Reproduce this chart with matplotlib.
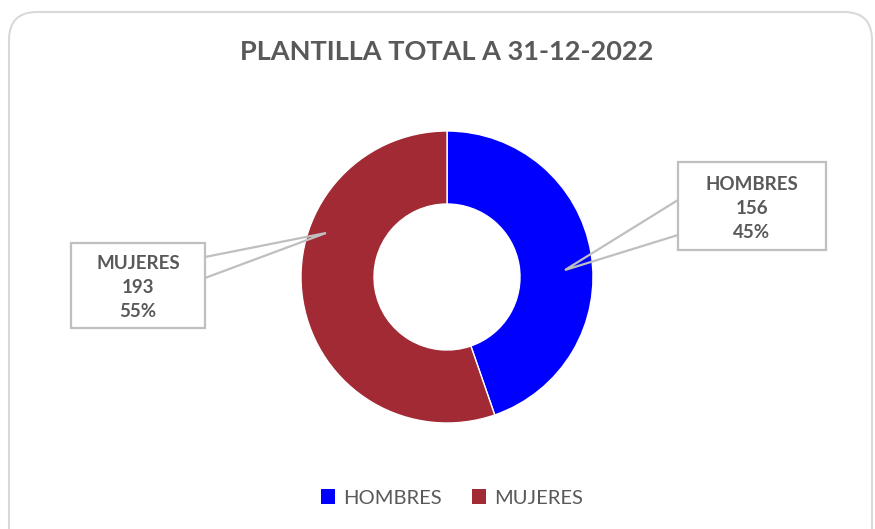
import matplotlib
matplotlib.use("Agg")
import matplotlib.pyplot as plt
from matplotlib.patches import FancyBboxPatch, Polygon, Rectangle, Patch

plt.rcParams['font.family'] = ['Lato', 'DejaVu Sans']

title = "PLANTILLA TOTAL A 31-12-2022"
categories = ["HOMBRES", "MUJERES"]
values = [156, 193]
colors = ["#0000FF", "#A12A34"]

W, H = 875, 529
TXT = "#595959"
EDGE = "#BFBFBF"

fig = plt.figure(figsize=(W / 100, H / 100), dpi=100)
ax = fig.add_axes([0, 0, 1, 1])

def Y(p):
    return H - p

# outer rounded frame
frame = FancyBboxPatch((9, Y(560)), 863, 548, boxstyle="round,pad=0,rounding_size=28",
                       facecolor="white", edgecolor="#D9D9D9", linewidth=1.5, zorder=0)
ax.add_patch(frame)

cx, cy, R = 447, 277, 146
wedges, _ = ax.pie(values, colors=colors, startangle=90, counterclock=False,
                   radius=R, center=(cx, Y(cy)),
                   wedgeprops=dict(width=R * 0.5, edgecolor="white", linewidth=1))
for w in wedges:
    w.set_zorder(2)

total = sum(values)
# callout layouts: box (x0, y0, x1, y1), leader attachment (side x, ya, yb), tip
callouts = [
    dict(box=(678, 162, 826, 250), ax_=678, ya=200, yb=235, tip=(565, 270)),
    dict(box=(71, 243, 205, 328), ax_=205, ya=257, yb=278, tip=(326, 233)),
]
for cat, val, co in zip(categories, values, callouts):
    x0, y0, x1, y1 = co["box"]
    ax.add_patch(Rectangle((x0, Y(y1)), x1 - x0, y1 - y0, facecolor="white",
                           edgecolor=EDGE, linewidth=1.6, zorder=4))
    tx, ty = co["tip"]
    ax.add_patch(Polygon([(co["ax_"], Y(co["ya"])), (tx, Y(ty)), (co["ax_"], Y(co["yb"]))],
                         closed=False, fill=False, edgecolor=EDGE, linewidth=1.6, zorder=4))
    pct = val / total * 100
    ax.text((x0 + x1) / 2, Y((y0 + y1) / 2 + 2), f"{cat}\n{val}\n{pct:.0f}%",
            ha="center", va="center", fontsize=13.5, fontweight="bold", color=TXT,
            linespacing=1.5, zorder=5)

ax.text(447, Y(52), title, ha="center", va="center", fontsize=19.5,
        fontweight="bold", color=TXT, zorder=5)

handles = [Patch(facecolor=c, edgecolor="none") for c in colors]
leg = ax.legend(handles, categories, loc="center", bbox_to_anchor=(452 / W, 1 - 498 / H),
                ncol=2, frameon=False, fontsize=14.5, handlelength=0.7, handleheight=0.7,
                handletextpad=0.4, columnspacing=1.5, labelcolor=TXT)

ax.set_xlim(0, W)
ax.set_ylim(0, H)
ax.set_aspect("equal")
ax.axis("off")

fig.savefig("out.png", dpi=100, facecolor="white")
